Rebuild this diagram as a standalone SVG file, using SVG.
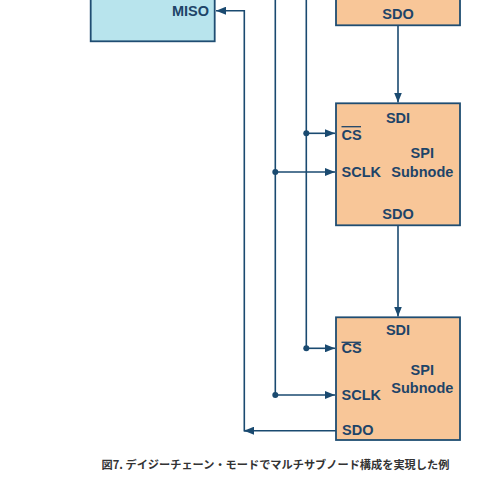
<svg xmlns="http://www.w3.org/2000/svg" width="491" height="480" viewBox="0 0 491 480">
<defs>
<marker id="ah" viewBox="0 0 10 8" refX="10" refY="4" markerWidth="10" markerHeight="8" markerUnits="userSpaceOnUse" orient="auto">
<path d="M0,0 L10,4 L0,8 Z" fill="#1a4a70"/>
</marker>
<style>
.master{fill:#b8e4ed;stroke:#1f4d72;stroke-width:1.8}
.sub{fill:#f8c698;stroke:#1f4d72;stroke-width:1.8}
.t{font-family:"Liberation Sans",Arial,sans-serif;font-weight:bold;font-size:14.5px;fill:#1e4468}
.w{fill:none;stroke:#1a4a70;stroke-width:1.6}
.dot{fill:#1a4a70}
.cap{font-family:"Noto Sans CJK JP",sans-serif;font-weight:bold;font-size:11.2px;fill:#333}
</style>
</defs>
<rect width="491" height="480" fill="#fff"/>
<g id="master">
<rect class="master" x="90.7" y="-10" width="124" height="51.3"/>
<text class="t" x="209" y="16" text-anchor="end">MISO</text>
</g>
<g id="sub1">
<rect class="sub" x="336" y="-10" width="124" height="35.3"/>
<text class="t" x="398" y="19" text-anchor="middle">SDO</text>
</g>
<g id="sub2">
<rect class="sub" x="336" y="103.3" width="124" height="122"/>
<text class="t" x="398" y="123" text-anchor="middle">SDI</text>
<text class="t" x="341.5" y="140">CS</text>
<line x1="341.5" y1="126.7" x2="361" y2="126.7" stroke="#1e4468" stroke-width="1.3"/>
<text class="t" x="422.3" y="158" text-anchor="middle">SPI</text>
<text class="t" x="341.5" y="177">SCLK</text>
<text class="t" x="422.3" y="177" text-anchor="middle">Subnode</text>
<text class="t" x="398" y="218.5" text-anchor="middle">SDO</text>
</g>
<g id="sub3">
<rect class="sub" x="336" y="317.3" width="124" height="122.7"/>
<text class="t" x="398" y="334.5" text-anchor="middle">SDI</text>
<text class="t" x="341.5" y="353">CS</text>
<line x1="341.5" y1="342.3" x2="361" y2="342.3" stroke="#1e4468" stroke-width="1.3"/>
<text class="t" x="422.3" y="375" text-anchor="middle">SPI</text>
<text class="t" x="422.3" y="393" text-anchor="middle">Subnode</text>
<text class="t" x="341.5" y="400">SCLK</text>
<text class="t" x="342" y="434.5">SDO</text>
</g>
<g id="connectors">
<path class="w" d="M336,430.7 H244.3 V10.7 H216" marker-end="url(#ah)"/>
<path class="w" d="M275.3,0 V395" />
<path class="w" d="M306.3,0 V348.3" />
<path class="w" d="M306.3,133.3 H335" marker-end="url(#ah)"/>
<path class="w" d="M275.3,172 H335" marker-end="url(#ah)"/>
<path class="w" d="M306.3,348.3 H335" marker-end="url(#ah)"/>
<path class="w" d="M275.3,395 H335" marker-end="url(#ah)"/>
<path class="w" d="M398,26 V102.5" marker-end="url(#ah)"/>
<path class="w" d="M398,226 V316.5" marker-end="url(#ah)"/>
<path class="w" d="M247,430.7 H244" marker-end="url(#ah)"/>
<circle class="dot" cx="306.3" cy="133.3" r="3"/>
<circle class="dot" cx="275.3" cy="172" r="3"/>
<circle class="dot" cx="306.3" cy="348.3" r="3"/>
<circle class="dot" cx="275.3" cy="395" r="3"/>
</g>
<text class="cap" x="101.5" y="469">図7. デイジーチェーン・モードでマルチサブノード構成を実現した例</text>
</svg>
